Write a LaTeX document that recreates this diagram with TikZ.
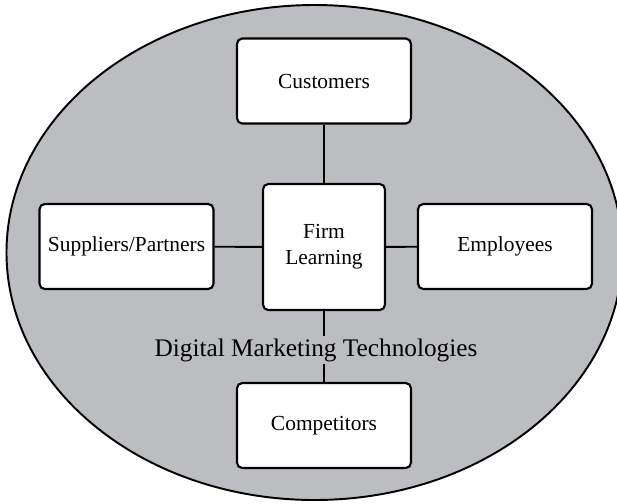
\documentclass[tikz,border=0pt]{standalone}
\usepackage{fontspec}
\setmainfont{Liberation Serif}
\usetikzlibrary{shapes.geometric}
\definecolor{bggray}{RGB}{188,189,193}
\tikzstyle{field} = [ellipse, draw, line width=1.1pt, fill=bggray, minimum width=12.32cm, minimum height=9.9cm]
\tikzstyle{actor} = [rectangle, rounded corners=3pt, draw, line width=1.2pt, fill=white, minimum width=3.48cm, minimum height=1.7cm, text centered, font=\fontsize{12.2}{14}\selectfont]
\tikzstyle{core} = [rectangle, rounded corners=3pt, draw, line width=1.2pt, fill=white, minimum width=2.44cm, minimum height=2.52cm, align=center, font=\fontsize{12.2}{15}\selectfont]
\tikzstyle{link} = [line width=1.1pt]

\begin{document}
\begin{tikzpicture}
            \useasboundingbox (0,0) rectangle (12.34,-10.06);
            \node [field] at (6.29,-5.05) (env) {};

            \node [actor] at (6.48,-1.62) (cust) {Customers};
            \node [core] at (6.48,-4.94) (firm) {Firm\\Learning};
            \node [actor] at (2.53,-4.93) (supp) {Suppliers/Partners};
            \node [actor] at (10.10,-4.93) (empl) {Employees};
            \node [actor] at (6.48,-8.51) (comp) {Competitors};
            \node [font=\fontsize{14.4}{16}\selectfont, inner sep=1pt] at (6.32,-7.0) (dmt) {Digital Marketing Technologies};

            \draw [link] (cust) -- (firm);
            \draw [link] (supp) -- (firm);
            \draw [link] (firm) -- (empl);
            \draw [link] (firm) -- (firm |- dmt.north);
            \draw [link] (firm |- dmt.south) -- (comp);
            \end{tikzpicture}
\end{document}
